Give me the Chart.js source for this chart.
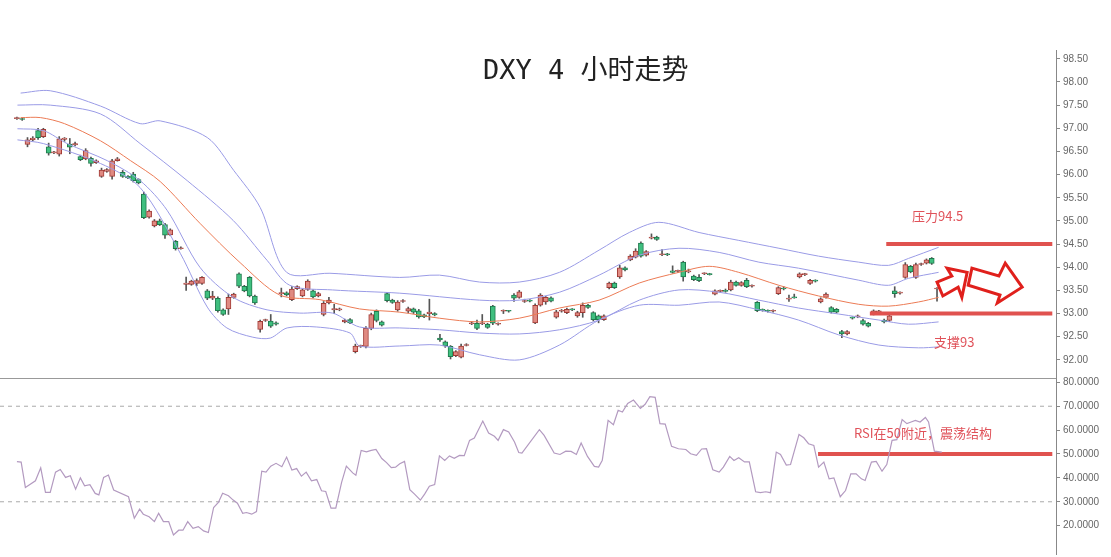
<!DOCTYPE html>
<html><head><meta charset="utf-8">
<script src="https://cdn.jsdelivr.net/npm/chart.js@4.4.1/dist/chart.umd.min.js"></script>
<style>
html,body{margin:0;padding:0;background:#fff;width:1111px;height:557px;overflow:hidden;font-family:"Noto Sans CJK SC","Noto Sans",sans-serif}
#w1{position:absolute;left:0;top:0;width:1111px;height:380px}
#w2{position:absolute;left:0;top:370px;width:1111px;height:187px}
#sep{position:absolute;left:0;top:378px;width:1056px;height:0;border-top:1px solid #999}
#ax{position:absolute;left:1056px;top:365px;width:0;height:190px;border-left:1px solid #888}
.t{position:absolute;color:#e0525a;font-size:13px;white-space:nowrap}
#title{position:absolute;left:483px;top:48px;font-size:27px;color:#222;font-family:"DejaVu Sans Mono","Noto Sans CJK SC",monospace;white-space:nowrap}
</style></head><body>
<div id="w1"><canvas id="c1" width="1111" height="380"></canvas></div>
<div id="w2"><canvas id="c2" width="1111" height="187"></canvas></div>
<div id="sep"></div>
<div id="ax"></div>
<div id="title">DXY 4 小时走势</div>
<div class="t" style="left:912px;top:206px">压力94.5</div>
<div class="t" style="left:934px;top:332px">支撑93</div>
<div class="t" style="left:854px;top:423px">RSI在50附近，震荡结构</div>
<script>
const opens=[97.21,97.20,96.65,96.75,96.95,96.82,96.60,96.47,96.44,96.76,96.66,96.64,96.39,96.34,96.35,96.26,95.96,96.07,95.96,96.30,96.05,95.96,96.01,95.89,95.58,95.08,94.89,95.00,94.92,94.70,94.56,94.40,93.63,93.63,93.65,93.65,93.49,93.33,93.33,93.08,93.10,93.35,93.86,93.59,93.78,93.38,92.66,92.85,92.84,92.80,93.43,93.45,93.30,93.54,93.38,93.52,93.49,93.38,92.98,93.23,93.08,93.08,92.82,92.87,92.18,92.29,92.29,92.68,93.05,92.82,93.43,93.29,93.08,93.26,93.05,93.10,93.06,92.97,93.00,93.00,92.47,92.39,92.29,92.09,92.06,92.31,92.78,92.79,92.78,92.77,93.16,92.77,93.05,93.06,93.40,93.35,93.26,93.28,92.80,93.18,93.25,93.34,92.92,93.05,93.02,93.09,92.95,93.02,93.18,93.02,92.95,92.87,93.56,93.66,93.79,93.99,94.16,94.22,94.52,94.26,94.63,94.65,94.27,94.28,93.92,93.91,94.11,93.90,93.81,93.78,93.86,93.85,93.42,93.48,93.49,93.51,93.68,93.61,93.72,93.59,93.24,93.08,93.06,93.05,93.43,93.55,93.31,93.35,93.79,93.84,93.65,93.71,93.25,93.35,93.13,93.09,92.61,92.56,92.91,92.93,92.85,92.79,92.99,93.03,92.86,92.85,93.49,93.44,93.78,94.02,93.78,94.06,94.09,94.19,93.53];
const closes=[97.22,97.19,96.75,96.79,96.80,96.98,96.46,96.49,96.77,96.79,96.59,96.67,96.32,96.52,96.24,96.30,96.10,96.11,96.30,96.34,95.96,95.93,95.87,95.82,95.07,95.21,95.00,94.92,94.69,94.81,94.40,94.42,93.66,93.70,93.71,93.78,93.33,93.38,93.06,92.98,93.35,93.42,93.59,93.49,93.38,93.23,92.83,92.86,92.73,92.77,93.45,93.40,93.53,93.58,93.51,93.70,93.36,93.43,93.22,93.29,93.11,93.10,92.86,92.80,92.30,92.30,92.68,92.98,92.85,92.75,93.28,93.24,93.25,93.28,93.11,93.03,92.93,92.93,93.03,92.97,92.43,92.30,92.07,92.18,92.30,92.33,92.80,92.68,92.79,92.70,92.79,92.78,93.06,93.05,93.33,93.47,93.28,93.27,93.18,93.40,93.35,93.27,93.04,93.07,93.09,93.08,93.02,93.18,93.13,92.87,92.87,92.95,93.66,93.56,93.99,93.94,94.24,94.35,94.24,94.34,94.65,94.60,94.28,94.27,93.89,93.92,93.79,93.91,93.73,93.71,93.87,93.84,93.49,93.49,93.48,93.68,93.61,93.67,93.58,93.60,93.06,93.07,93.05,93.06,93.56,93.53,93.32,93.34,93.86,93.85,93.72,93.70,93.32,93.42,93.03,93.03,92.56,92.61,92.90,92.94,92.77,92.73,93.06,93.06,92.82,92.95,93.43,93.46,94.06,93.90,94.06,94.07,94.16,94.08,93.54];
const highs=[97.24,97.22,96.80,96.82,97.00,97.00,96.68,96.50,96.82,96.80,96.78,96.70,96.42,96.56,96.38,96.32,96.14,96.13,96.33,96.37,96.09,95.98,96.05,95.91,95.62,95.24,95.03,95.04,94.95,94.83,94.58,94.44,93.79,93.72,93.75,93.80,93.52,93.48,93.36,93.10,93.42,93.44,93.88,93.61,93.80,93.40,92.86,92.88,92.98,92.82,93.55,93.47,93.58,93.60,93.53,93.73,93.51,93.46,93.26,93.35,93.20,93.12,92.88,92.89,92.34,92.32,92.72,93.01,93.08,92.84,93.46,93.31,93.28,93.30,93.14,93.12,93.09,92.99,93.31,93.02,92.55,92.41,92.31,92.20,92.34,92.35,92.82,92.86,92.98,92.79,93.18,92.80,93.08,93.07,93.43,93.50,93.31,93.30,93.21,93.43,93.37,93.36,93.07,93.09,93.12,93.11,93.05,93.23,93.20,93.04,92.97,92.97,93.68,93.68,94.04,94.01,94.27,94.40,94.55,94.36,94.72,94.67,94.38,94.30,94.03,93.94,94.13,93.96,93.83,93.84,93.88,93.87,93.51,93.51,93.53,93.72,93.70,93.69,93.76,93.62,93.26,93.10,93.08,93.08,93.58,93.58,93.40,93.42,93.88,93.87,93.74,93.73,93.34,93.45,93.15,93.11,92.64,92.63,92.93,92.97,92.88,92.81,93.08,93.07,92.88,92.98,93.58,93.47,94.10,94.04,94.09,94.09,94.18,94.21,93.56];
const lows=[97.19,97.17,96.60,96.73,96.76,96.80,96.42,96.45,96.40,96.72,96.45,96.62,96.30,96.32,96.18,96.24,95.94,96.05,95.90,96.29,95.94,95.91,95.84,95.80,95.05,95.06,94.87,94.90,94.62,94.68,94.37,94.39,93.50,93.61,93.60,93.63,93.30,93.30,93.03,92.96,92.98,93.33,93.56,93.47,93.36,93.20,92.60,92.83,92.70,92.75,93.36,93.38,93.28,93.52,93.36,93.50,93.34,93.36,92.95,93.21,93.00,93.06,92.80,92.78,92.15,92.27,92.26,92.65,92.82,92.73,93.25,93.22,93.05,93.24,93.02,93.00,92.90,92.91,92.86,92.95,92.40,92.27,92.02,92.07,92.04,92.30,92.76,92.65,92.76,92.68,92.76,92.75,93.00,93.03,93.26,93.33,93.24,93.25,92.78,93.16,93.20,93.25,92.90,93.03,93.00,93.06,92.92,92.92,93.11,92.84,92.80,92.85,93.53,93.54,93.76,93.92,94.14,94.20,94.22,94.24,94.61,94.58,94.25,94.25,93.87,93.89,93.70,93.88,93.71,93.69,93.84,93.83,93.40,93.46,93.46,93.49,93.59,93.59,93.56,93.57,93.04,93.05,93.03,93.03,93.41,93.51,93.26,93.33,93.77,93.82,93.63,93.68,93.23,93.33,93.01,93.01,92.48,92.54,92.88,92.91,92.75,92.71,92.97,93.01,92.80,92.83,93.35,93.42,93.76,93.88,93.76,94.04,94.07,94.06,93.27];
const midX=[0.7,4.5,9,15.8,21.5,27.1,34.6,42.2,49.7,57.3,64.8,72.4,79.9,87.5,95,102.6,110.1,117.7,125.2,130.9,136.5,144.1,151.6,159.2,164.8,170.5,174.3];
const midY=[97.23,97.23,97.1,96.73,96.3,95.85,94.95,94.1,93.4,93.3,93.1,93.03,92.9,92.82,92.9,93.12,93.29,93.66,93.89,94.02,93.89,93.61,93.38,93.2,93.16,93.25,93.35];
const upOutX=[0.7,6.3,15.8,23.3,27.1,36,41,46,51,59.2,72.4,79.9,87.5,95,102.6,110.1,115.8,121.4,129,136.5,144.1,151.6,159.2,164.8,168.6,174.3];
const upOutY=[97.76,97.81,97.48,97.10,97.16,96.8,96.09,95.29,93.89,93.87,93.78,93.83,93.68,93.68,93.89,94.37,94.75,94.97,94.75,94.58,94.41,94.24,94.11,94.04,94.19,94.43];
const upInX=[0.1,6.3,15.8,23.3,32.2,40.9,47.3,51.6,59.7,72.4,87.5,95,102.6,110.1,117.7,125.2,132.8,140.3,147.8,159.2,164.8,168.6,174.3];
const upInY=[97.5,97.5,97.31,96.67,95.87,95.01,94.15,93.61,93.51,93.44,93.29,93.29,93.46,93.83,94.26,94.41,94.32,94.11,93.98,93.72,93.61,93.76,93.89];
const loInX=[0.1,5,9.5,17.1,23.3,28.4,34.6,40.9,47.3,53.5,59.7,64.8,72.4,79.9,87.5,95,102.6,110.1,117.7,125.2,132.8,140.3,147.8,155.4,163,168.6,174.3];
const loInY=[96.99,96.95,96.67,96.3,95.87,95.23,94.0,93.35,93.08,93.01,93.01,92.71,92.69,92.65,92.58,92.56,92.65,92.86,93.29,93.51,93.46,93.29,93.12,92.99,92.86,92.77,92.82];
const loOutX=[0.1,5,15.8,23.3,30.9,36,39.7,44.6,47.9,51.1,56.7,63,64.8,72.4,79.9,87.5,95,102.6,110.1,117.7,125.2,132.8,140.3,147.8,155.4,163,170.5,174.3];
const loOutY=[96.75,96.67,96.24,95.72,94.3,93.14,92.69,92.49,92.47,92.69,92.71,92.58,92.3,92.3,92.32,92.11,92.0,92.32,92.86,93.18,93.18,93.25,93.08,92.86,92.54,92.32,92.26,92.28];
const rsiX=[0,0.8,1.6,3.5,4.5,5.4,6.3,7.3,8.2,9.2,10.1,11.1,12,12.8,13.8,14.8,15.5,16.4,17.3,18.3,21.1,22.2,23.2,23.9,25,26,26.8,27.7,28.7,29.6,30.6,31.4,32.3,33.3,34.3,35.3,36.2,37.2,38.1,38.9,40,40.9,41.7,42.7,43.4,44.4,45.3,46.3,47.1,48,49,50.1,51,52,52.9,53.8,54.7,55.7,56.7,57.6,58.4,59.4,60.3,61.4,62.3,63.5,64.1,65.1,66.1,67,67.9,69,69.9,70.8,71.6,72.4,73.3,74.3,75.2,76.3,77.1,78,79,79.9,80.9,81.8,82.7,83.7,84.6,85.6,86.5,88.1,89.2,90.3,91,92,93,94.1,94.9,95.5,98.8,99.7,101.6,102.7,103.8,104.8,105.8,106.7,107.9,109.2,110,110.7,111.8,112.8,113.7,114.5,115.5,116.6,117.9,118.8,119.7,120.7,121.6,122.6,123.8,125.1,126.5,127.4,128.5,129.5,130.4,131.6,132.8,133.6,134.8,135.6,136.5,137.6,138.5,139.7,140.6,141.6,142.5,143.6,144.4,145.5,146.3,147.9,148.8,149.7,150.7,151.6,152.6,153.6,154.5,155.7,156.7,157.7,158.7,159.7,160.4,161.6,162.5,163.6,164.5,165.5,166.4,167.4,168.3,169.1,169.9,170.8,171.8,172.4,173.5,174.9];
const rsiV=[46.8,46.6,36.0,38.8,44.2,33.9,33.9,42.4,43.5,40.2,40.9,35.3,40.0,36.7,37.2,33.5,32.9,40.2,41.2,34.9,32.1,23.1,26.9,24.8,23.7,21.7,25.2,21.7,21.7,16.1,18.1,18.1,21.7,18.9,19.6,17.8,17.1,27.6,29.7,33.6,32.5,30.7,29.4,25.2,25.5,24.8,25.9,42.8,42.4,44.9,46.1,44.7,48.7,43.3,43.9,40.7,42.4,38.8,39.3,34.6,34.3,27.3,27.3,38.1,44.9,42.1,41.1,51.5,50.9,51.5,51.9,48.1,46.4,44.3,44.5,45.9,46.9,35.1,33.2,30.7,33.2,36.5,37.2,49.2,47.3,49.2,48.2,49.4,49.3,55.7,56.7,63.8,58.8,57.4,55.7,60.2,59.2,55.0,50.6,50.4,60.2,57.8,50.4,49.8,51.2,51.1,49.8,54.6,49.0,44.8,44.5,47.4,64.1,62.3,68.3,67.6,71.2,72.6,69.1,70.8,74.0,73.7,62.7,62.5,53.2,52.2,51.9,50.1,49.4,52.1,52.2,43.4,42.4,44.5,49.0,47.3,48.4,46.7,46.7,34.2,33.8,34.2,33.8,50.8,49.8,45.4,45.6,58.2,56.8,54.3,53.6,44.5,46.6,39.6,40.0,32.1,34.7,41.7,41.7,39.6,38.9,46.6,46.9,42.8,45.6,55.7,56.0,64.4,62.7,63.4,64.1,63.4,65.3,63.4,51.2,50.8];
const rsiTicks=[20,30,40,50,60,70,80];
const resistance=94.5, support=93.0, rsiMid=50;
const levelStart=[164.4,161.3,151.5], levelEnd=195.8;
const bigArrowX=[180.6,185.7,186.9,190.1,185.4,185.9,179.9], bigArrowY=[93.98,93.81,94.09,93.57,93.23,93.40,93.61];
const smallArrowX=[174,176.8,175.9,179.7,178.7,178,175.1], smallArrowY=[93.68,93.81,93.98,93.89,93.35,93.57,93.38];
const XMIN=-3.2, XMAX=196.5;

const pts=(xs,ys)=>xs.map((x,i)=>({x,y:ys[i]}));
const RED='#e0524f';
const bodyColors=opens.map((o,i)=>closes[i]>=o?'#e08a82':'#3fbf7f');
const bodyBorders=opens.map((o,i)=>closes[i]>=o?'#a03a35':'#1f7a4d');
const band=(xs,ys,c)=>({type:'line',data:pts(xs,ys),borderColor:c,borderWidth:1,pointRadius:0,tension:0.3,order:0});
const tickFont={size:10,family:'Liberation Sans'};
const yBase={position:'right',afterFit:s=>{s.width=55;},grid:{drawOnChartArea:false,tickLength:4,color:'#888'},border:{color:'#888'}};
const arrowPlugin={id:'arrows',afterDatasetsDraw(ch){const x=ch.scales.x,y=ch.scales.y,c=ch.ctx;c.save();c.strokeStyle='#e0201c';c.lineWidth=3;c.lineJoin='miter';
 [[bigArrowX,bigArrowY],[smallArrowX,smallArrowY]].forEach(([ax,ay])=>{c.beginPath();ax.forEach((v,i)=>{const px=x.getPixelForValue(v),py=y.getPixelForValue(ay[i]);i?c.lineTo(px,py):c.moveTo(px,py);});c.closePath();c.stroke();});c.restore();}};
new Chart(document.getElementById('c1'),{
 data:{datasets:[
  {type:'bar',data:lows.map((l,i)=>({x:i,y:[l,highs[i]]})),backgroundColor:'#555',barThickness:1,grouped:false,order:2},
  {type:'bar',data:opens.map((o,i)=>({x:i,y:[o,closes[i]]})),backgroundColor:bodyColors,borderColor:bodyBorders,borderWidth:1,borderSkipped:false,barThickness:5,minBarLength:1,grouped:false,order:1},
  band(upOutX,upOutY,'#9a9be6'),band(upInX,upInY,'#9a9be6'),band(loInX,loInY,'#9a9be6'),band(loOutX,loOutY,'#9a9be6'),band(midX,midY,'#ec7b55'),
  {type:'line',data:[{x:levelStart[0],y:resistance},{x:levelEnd,y:resistance}],borderColor:RED,borderWidth:4,pointRadius:0,order:0},
  {type:'line',data:[{x:levelStart[1],y:support},{x:levelEnd,y:support}],borderColor:RED,borderWidth:4,pointRadius:0,order:0}
 ]},
 options:{responsive:false,animation:false,events:[],layout:{padding:{top:50,bottom:1,left:0,right:0}},
  plugins:{legend:{display:false},tooltip:{enabled:false}},
  scales:{x:{type:'linear',min:XMIN,max:XMAX,display:false,offset:false},
   y:{...yBase,min:91.76,max:98.69,ticks:{color:'#666',font:tickFont,stepSize:0.5,includeBounds:false,autoSkip:false,callback:v=>Number(v).toFixed(2)}}}},
 plugins:[arrowPlugin]
});
new Chart(document.getElementById('c2'),{
 type:'line',
 data:{datasets:[
  {data:pts(rsiX,rsiV),borderColor:'#b39ac0',borderWidth:1.2,pointRadius:0},
  {data:[{x:XMIN,y:70},{x:XMAX,y:70}],borderColor:'#aaa',borderWidth:1,borderDash:[4,4],pointRadius:0},
  {data:[{x:XMIN,y:30},{x:XMAX,y:30}],borderColor:'#aaa',borderWidth:1,borderDash:[4,4],pointRadius:0},
  {data:[{x:levelStart[2],y:rsiMid},{x:levelEnd,y:rsiMid}],borderColor:RED,borderWidth:4,pointRadius:0}
 ]},
 options:{responsive:false,animation:false,events:[],layout:{padding:{top:0,bottom:12,left:0,right:0}},
  plugins:{legend:{display:false},tooltip:{enabled:false}},
  scales:{x:{type:'linear',min:XMIN,max:XMAX,display:false},
   y:{...yBase,min:11.9,max:81.4,afterBuildTicks:a=>{a.ticks=rsiTicks.map(v=>({value:v}));},ticks:{color:'#666',font:tickFont,autoSkip:false,callback:v=>Number(v).toFixed(4)}}}}
});
</script>
</body></html>
